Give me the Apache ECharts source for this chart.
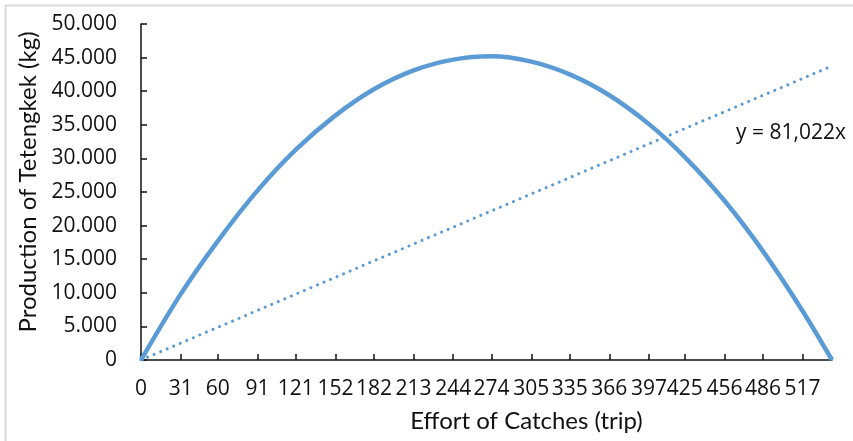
<!DOCTYPE html>
<html lang="en">
<head>
  <meta charset="UTF-8">
  <title>Production of Tetengkek</title>
  <script src="https://cdn.jsdelivr.net/npm/echarts@6/dist/echarts.min.js"></script>
  <style>
    html, body { margin: 0; padding: 0; background: #fff; }
    #chart { width: 853px; height: 441px; }
  </style>
</head>
<body>
  <div id="chart"></div>
<script>
  // effort (trip) tick labels as shown on the axis
  const effortTicks = [0, 31, 60, 91, 121, 152, 182, 213, 244, 274, 305, 335, 366, 397, 425, 456, 486, 517];
  // yield curve
  const effort = [0, 31, 60, 91, 121, 152, 182, 213, 244, 274, 305, 335, 366, 397, 425, 456, 486, 517, 540];
  const production = [0, 9800, 17700, 25200, 31300, 36400, 40300, 43100, 44700, 45200, 44400, 42500, 39400, 35100, 30200, 23700, 16200, 7300, 0];
  // linear trend line, y = 81,022x
  const trendEffort = [0, 537];
  const trendProduction = [0, 43510];
  const trendLabel = 'y = 81,022x';

  const titleFont = 'Lato, "Open Sans", sans-serif';
  const labelFont = '"Open Sans", Lato, sans-serif';
  const chart = echarts.init(document.getElementById('chart'));

  chart.setOption({
    animation: false,
    textStyle: { fontFamily: labelFont },
    grid: { left: 141, right: 21, top: 24, bottom: 81 },
    xAxis: {
      type: 'value',
      min: 0,
      max: 540,
      name: 'Effort of Catches (trip)',
      nameLocation: 'middle',
      nameGap: 49,
      nameTextStyle: { fontSize: 24, color: '#111', fontFamily: titleFont, padding: [0, 0, 0, 80] },
      splitLine: { show: false },
      axisLine: { lineStyle: { color: '#111', width: 1.5 } },
      axisTick: { inside: true, length: 6, customValues: effortTicks, lineStyle: { color: '#111', width: 1.5 } },
      axisLabel: { customValues: effortTicks, fontSize: 21, color: '#111', margin: 19, fontFamily: labelFont }
    },
    yAxis: {
      type: 'value',
      min: 0,
      max: 50000,
      interval: 5000,
      name: 'Production of Tetengkek (kg)',
      nameLocation: 'middle',
      nameGap: 96,
      nameTextStyle: { fontSize: 24, color: '#111', fontFamily: titleFont, padding: [0, 0, 0, 20] },
      splitLine: { show: false },
      axisLine: { show: true, lineStyle: { color: '#111', width: 1.5 } },
      axisTick: { show: true, inside: true, length: 6, lineStyle: { color: '#111', width: 1.5 } },
      axisLabel: {
        fontSize: 21,
        color: '#111',
        margin: 24,
        fontFamily: labelFont,
        formatter: v => v === 0 ? '0' : (v / 1000) + '.000'
      }
    },
    graphic: [
      {
        type: 'polyline',
        shape: { points: [[5.5, 441], [5.5, 5.5], [853, 5.5]] },
        style: { stroke: '#d9d9d9', lineWidth: 2, fill: null },
        silent: true
      },
      {
        type: 'text',
        left: 736,
        top: 123,
        style: { text: trendLabel, fontSize: 21, fill: '#111', fontFamily: labelFont }
      }
    ],
    series: [
      {
        type: 'line',
        data: effort.map((e, i) => [e, production[i]]),
        smooth: 0.33,
        showSymbol: false,
        lineStyle: { color: '#5b9bd5', width: 4.5 }
      },
      {
        type: 'line',
        data: trendEffort.map((e, i) => [e, trendProduction[i]]),
        showSymbol: false,
        lineStyle: { color: '#5b9bd5', width: 3, type: [0.1, 7], cap: 'round' }
      }
    ]
  });
</script>
</body>
</html>
